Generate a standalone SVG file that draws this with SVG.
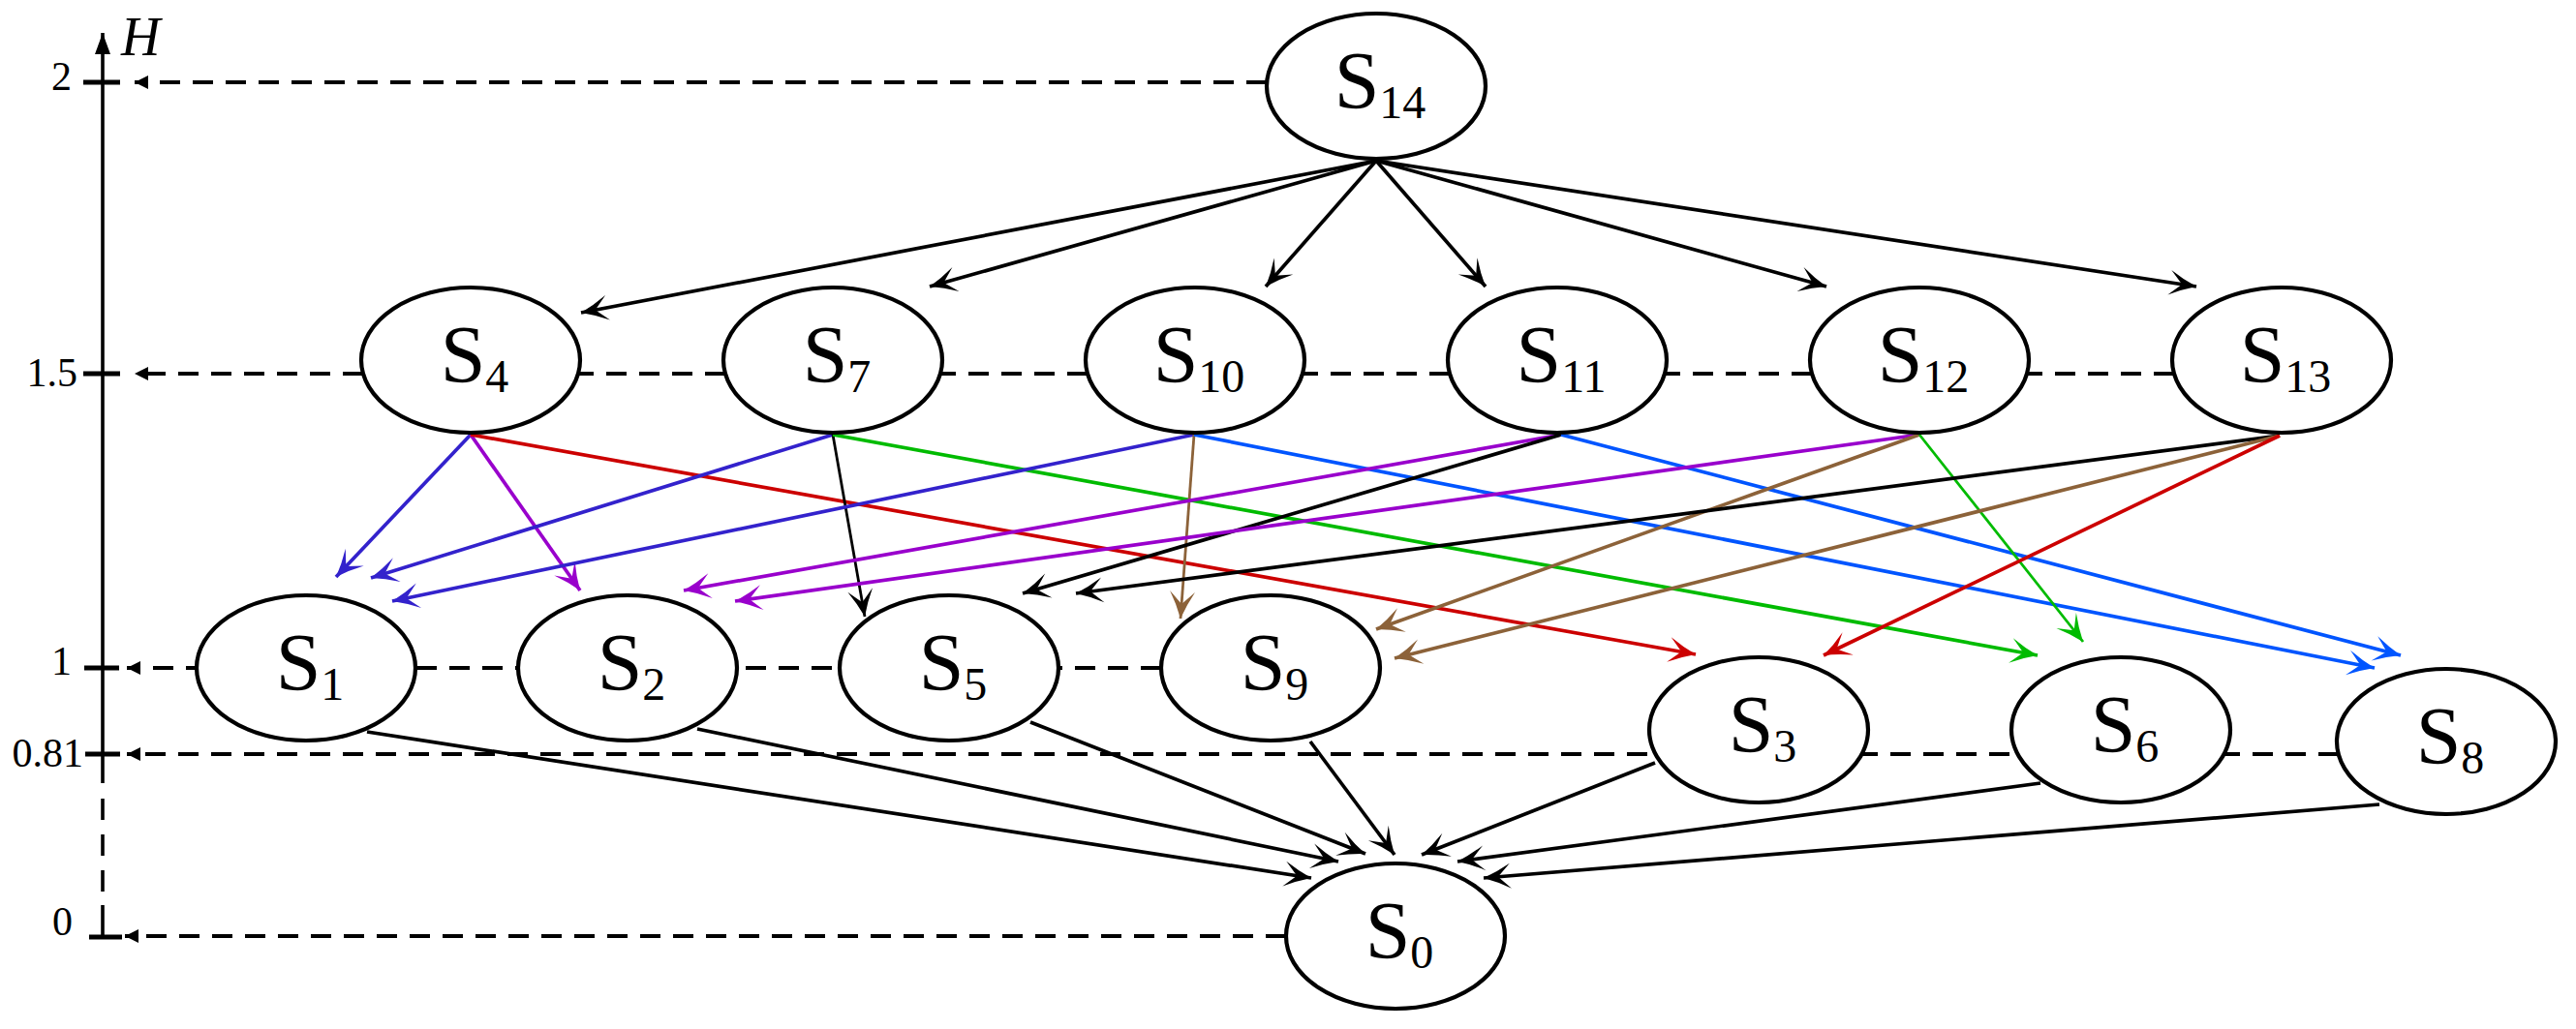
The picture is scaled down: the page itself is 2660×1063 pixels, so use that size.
<svg xmlns="http://www.w3.org/2000/svg" width="2660" height="1063" viewBox="0 0 2660 1063">
<style>
.node{fill:#fff;stroke:#000;stroke-width:4.2}
.lbl{font-family:"Liberation Serif","Times New Roman",serif;font-size:84px;text-anchor:middle;fill:#000}
.sub{font-size:48px}
.tick{font-family:"Liberation Serif","Times New Roman",serif;font-size:42px;text-anchor:end;fill:#000}
.lvl{fill:none;stroke:#000;stroke-width:4.2;stroke-dasharray:21 13}
.e{fill:none;stroke-width:3.7}
.k{stroke:#000}.bv{stroke:#3322cc}.pu{stroke:#9900cc}.rd{stroke:#cc0000}.gr{stroke:#00bb00}.br{stroke:#8c6239}.bl{stroke:#0055ff}
.thin{stroke-width:2.8}
</style>
<defs>
<marker id="ak" viewBox="-30 -15 32 30" refX="0" refY="0" markerWidth="32" markerHeight="30" markerUnits="userSpaceOnUse" orient="auto"><path d="M0,0 Q-14,-5 -28,-13 L-15,0 L-28,13 Q-14,5 0,0 Z" fill="#000"/></marker>
<marker id="abv" viewBox="-30 -15 32 30" refX="0" refY="0" markerWidth="32" markerHeight="30" markerUnits="userSpaceOnUse" orient="auto"><path d="M0,0 Q-14,-5 -28,-13 L-15,0 L-28,13 Q-14,5 0,0 Z" fill="#3322cc"/></marker>
<marker id="apu" viewBox="-30 -15 32 30" refX="0" refY="0" markerWidth="32" markerHeight="30" markerUnits="userSpaceOnUse" orient="auto"><path d="M0,0 Q-14,-5 -28,-13 L-15,0 L-28,13 Q-14,5 0,0 Z" fill="#9900cc"/></marker>
<marker id="ard" viewBox="-30 -15 32 30" refX="0" refY="0" markerWidth="32" markerHeight="30" markerUnits="userSpaceOnUse" orient="auto"><path d="M0,0 Q-14,-5 -28,-13 L-15,0 L-28,13 Q-14,5 0,0 Z" fill="#cc0000"/></marker>
<marker id="agr" viewBox="-30 -15 32 30" refX="0" refY="0" markerWidth="32" markerHeight="30" markerUnits="userSpaceOnUse" orient="auto"><path d="M0,0 Q-14,-5 -28,-13 L-15,0 L-28,13 Q-14,5 0,0 Z" fill="#00bb00"/></marker>
<marker id="abr" viewBox="-30 -15 32 30" refX="0" refY="0" markerWidth="32" markerHeight="30" markerUnits="userSpaceOnUse" orient="auto"><path d="M0,0 Q-14,-5 -28,-13 L-15,0 L-28,13 Q-14,5 0,0 Z" fill="#8c6239"/></marker>
<marker id="abl" viewBox="-30 -15 32 30" refX="0" refY="0" markerWidth="32" markerHeight="30" markerUnits="userSpaceOnUse" orient="auto"><path d="M0,0 Q-14,-5 -28,-13 L-15,0 L-28,13 Q-14,5 0,0 Z" fill="#0055ff"/></marker>
<marker id="tri" viewBox="-16 -8 17 16" refX="0" refY="0" markerWidth="17" markerHeight="16" markerUnits="userSpaceOnUse" orient="auto"><path d="M0,0 L-14,-7 L-14,7 Z" fill="#000"/></marker>
<marker id="ax" viewBox="-24 -9 25 18" refX="0" refY="0" markerWidth="25" markerHeight="18" markerUnits="userSpaceOnUse" orient="auto"><path d="M0,0 L-22,-8 L-22,8 Z" fill="#000"/></marker>
</defs>

<g id="axis">
<line x1="106" y1="809" x2="106" y2="34" stroke="#000" stroke-width="3.6" marker-end="url(#ax)"/>
<line x1="106" y1="968" x2="106" y2="812" stroke="#000" stroke-width="3.6" stroke-dasharray="33 14 22 15 22 15 22"/>
<g stroke="#000" stroke-width="5">
<line x1="86" y1="85" x2="124" y2="85"/>
<line x1="86" y1="386" x2="124" y2="386"/>
<line x1="87" y1="690" x2="123" y2="690"/>
<line x1="88" y1="779" x2="124" y2="779"/>
<line x1="92" y1="968" x2="126" y2="968"/>
</g>
<text x="125" y="57" font-family="Liberation Serif, serif" font-style="italic" font-size="56">H</text>
<text class="tick" x="74" y="93">2</text>
<text class="tick" x="80" y="399">1.5</text>
<text class="tick" x="74" y="697">1</text>
<text class="tick" x="86" y="792">0.81</text>
<text class="tick" x="75" y="966">0</text>
</g>

<g id="levels">
<line class="lvl" x1="1308" y1="85" x2="139" y2="85" marker-end="url(#tri)"/>
<line class="lvl" x1="2245" y1="386" x2="139" y2="386" marker-end="url(#tri)"/>
<line class="lvl" x1="1199" y1="690" x2="131" y2="690" marker-end="url(#tri)"/>
<line class="lvl" x1="2415" y1="779" x2="131" y2="779" marker-end="url(#tri)"/>
<line class="lvl" x1="1328" y1="967" x2="129" y2="967" marker-end="url(#tri)"/>
</g>

<g id="connectors">
<line class="e k" x1="1421" y1="166" x2="600" y2="323" marker-end="url(#ak)"/>
<line class="e k" x1="1421" y1="166" x2="960" y2="296" marker-end="url(#ak)"/>
<line class="e k" x1="1421" y1="166" x2="1307" y2="296" marker-end="url(#ak)"/>
<line class="e k" x1="1421" y1="166" x2="1534" y2="296" marker-end="url(#ak)"/>
<line class="e k" x1="1421" y1="166" x2="1886" y2="296" marker-end="url(#ak)"/>
<line class="e k" x1="1421" y1="166" x2="2268" y2="296" marker-end="url(#ak)"/>

<line class="e bv" x1="486" y1="449" x2="347" y2="596" marker-end="url(#abv)"/>
<line class="e pu" x1="486" y1="449" x2="599" y2="610" stroke-width="3.1" marker-end="url(#apu)"/>
<line class="e rd" x1="486" y1="449" x2="1751" y2="676" marker-end="url(#ard)"/>

<line class="e bv" x1="860" y1="449" x2="383" y2="597" marker-end="url(#abv)"/>
<line class="e k thin" x1="860" y1="449" x2="893" y2="637" marker-end="url(#ak)"/>
<line class="e gr" x1="860" y1="449" x2="2104" y2="677" marker-end="url(#agr)"/>

<line class="e bv" x1="1233" y1="449" x2="405" y2="621" marker-end="url(#abv)"/>
<line class="e br thin" x1="1233" y1="449" x2="1219" y2="639" marker-end="url(#abr)"/>
<line class="e bl" x1="1233" y1="449" x2="2452" y2="690" marker-end="url(#abl)"/>

<line class="e pu" x1="1612" y1="449" x2="706" y2="610" marker-end="url(#apu)"/>
<line class="e k" x1="1612" y1="449" x2="1056" y2="613" marker-end="url(#ak)"/>
<line class="e bl" x1="1612" y1="449" x2="2479" y2="677" marker-end="url(#abl)"/>

<line class="e pu" x1="1982" y1="449" x2="759" y2="621" marker-end="url(#apu)"/>
<line class="e br" x1="1982" y1="449" x2="1421" y2="650" stroke-width="3.1" marker-end="url(#abr)"/>
<line class="e gr thin" x1="1982" y1="449" x2="2151" y2="663" marker-end="url(#agr)"/>

<line class="e k" x1="2354" y1="450" x2="1111" y2="613" marker-end="url(#ak)"/>
<line class="e br" x1="2354" y1="450" x2="1440" y2="680" marker-end="url(#abr)"/>
<line class="e rd" x1="2354" y1="450" x2="1883" y2="677" marker-end="url(#ard)"/>

<line class="e k" x1="379" y1="756" x2="1354" y2="907" marker-end="url(#ak)"/>
<line class="e k" x1="720" y1="753" x2="1382" y2="890" marker-end="url(#ak)"/>
<line class="e k" x1="1064" y1="746" x2="1410" y2="882" marker-end="url(#ak)"/>
<line class="e k" x1="1353" y1="766" x2="1440" y2="883" marker-end="url(#ak)"/>
<line class="e k" x1="1709" y1="788" x2="1468" y2="883" marker-end="url(#ak)"/>
<line class="e k" x1="2107" y1="809" x2="1505" y2="890" marker-end="url(#ak)"/>
<line class="e k" x1="2457" y1="831" x2="1532" y2="907" marker-end="url(#ak)"/>
</g>

<g id="S14"><ellipse class="node" cx="1421" cy="89" rx="113" ry="75"/><text class="lbl" x="1425" y="112">S<tspan class="sub" dy="10">14</tspan></text></g>
<g id="S4"><ellipse class="node" cx="486" cy="372" rx="113" ry="75"/><text class="lbl" x="490" y="395">S<tspan class="sub" dy="10">4</tspan></text></g>
<g id="S7"><ellipse class="node" cx="860" cy="372" rx="113" ry="75"/><text class="lbl" x="864" y="395">S<tspan class="sub" dy="10">7</tspan></text></g>
<g id="S10"><ellipse class="node" cx="1234" cy="372" rx="113" ry="75"/><text class="lbl" x="1238" y="395">S<tspan class="sub" dy="10">10</tspan></text></g>
<g id="S11"><ellipse class="node" cx="1608" cy="372" rx="113" ry="75"/><text class="lbl" x="1612" y="395">S<tspan class="sub" dy="10">11</tspan></text></g>
<g id="S12"><ellipse class="node" cx="1982" cy="372" rx="113" ry="75"/><text class="lbl" x="1986" y="395">S<tspan class="sub" dy="10">12</tspan></text></g>
<g id="S13"><ellipse class="node" cx="2356" cy="372" rx="113" ry="75"/><text class="lbl" x="2360" y="395">S<tspan class="sub" dy="10">13</tspan></text></g>
<g id="S1"><ellipse class="node" cx="316" cy="690" rx="113" ry="75"/><text class="lbl" x="320" y="713">S<tspan class="sub" dy="10">1</tspan></text></g>
<g id="S2"><ellipse class="node" cx="648" cy="690" rx="113" ry="75"/><text class="lbl" x="652" y="713">S<tspan class="sub" dy="10">2</tspan></text></g>
<g id="S5"><ellipse class="node" cx="980" cy="690" rx="113" ry="75"/><text class="lbl" x="984" y="713">S<tspan class="sub" dy="10">5</tspan></text></g>
<g id="S9"><ellipse class="node" cx="1312" cy="690" rx="113" ry="75"/><text class="lbl" x="1316" y="713">S<tspan class="sub" dy="10">9</tspan></text></g>
<g id="S3"><ellipse class="node" cx="1816" cy="754" rx="113" ry="75"/><text class="lbl" x="1820" y="777">S<tspan class="sub" dy="10">3</tspan></text></g>
<g id="S6"><ellipse class="node" cx="2190" cy="754" rx="113" ry="75"/><text class="lbl" x="2194" y="777">S<tspan class="sub" dy="10">6</tspan></text></g>
<g id="S8"><ellipse class="node" cx="2526" cy="766" rx="113" ry="75"/><text class="lbl" x="2530" y="789">S<tspan class="sub" dy="10">8</tspan></text></g>
<g id="S0"><ellipse class="node" cx="1441" cy="967" rx="113" ry="75"/><text class="lbl" x="1445" y="990">S<tspan class="sub" dy="10">0</tspan></text></g>
</svg>
